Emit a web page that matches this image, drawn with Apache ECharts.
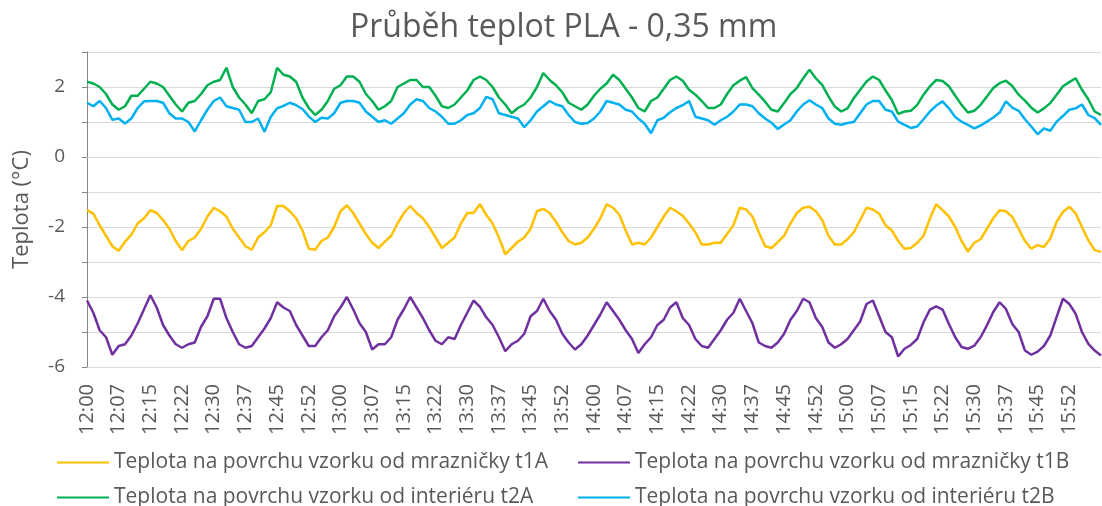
<!DOCTYPE html>
<html lang="cs">
<head>
    <meta charset="UTF-8">
    <title>Průběh teplot PLA - 0,35 mm</title>
    <script src="https://cdn.jsdelivr.net/npm/echarts@6/dist/echarts.min.js"></script>
    <style>
        html, body { margin: 0; width: 100%; height: 100%; background: #fff; }
        #main { width: 1102px; height: 506px; }
    </style>
</head>
<body>
<div id="main"></div>
<script>
    // casova osa: mereni po 1,5 min od 12:00
    var startTime = 12 * 3600;
    var stepSec = 90;
    var pointCount = 161;
    var categories = [];
    for (var k = 0; k < pointCount; k++) {
        var s = startTime + k * stepSec;
        var hh = Math.floor(s / 3600), mm = Math.floor((s % 3600) / 60), ss = s % 60;
        categories.push(hh + ':' + (mm < 10 ? '0' : '') + mm + ':' + (ss < 10 ? '0' : '') + ss);
    }

    var seriesNames = [
        'Teplota na povrchu vzorku od mrazničky t1A',
        'Teplota na povrchu vzorku od mrazničky t1B',
        'Teplota na povrchu vzorku od interiéru t2A',
        'Teplota na povrchu vzorku od interiéru t2B'
    ];

    var t1A = [
        -1.52, -1.62, -1.95, -2.25, -2.55, -2.68, -2.42, -2.22, -1.9, -1.75,
        -1.52, -1.6, -1.8, -2.05, -2.4, -2.66, -2.4, -2.3, -2.05, -1.7,
        -1.45, -1.55, -1.7, -2.05, -2.3, -2.55, -2.65, -2.3, -2.15, -1.95,
        -1.4, -1.4, -1.55, -1.75, -2.1, -2.62, -2.65, -2.4, -2.3, -2.0,
        -1.55, -1.38, -1.6, -1.9, -2.2, -2.45, -2.6, -2.42, -2.25, -1.9,
        -1.6, -1.4, -1.6, -1.75, -2.0, -2.3, -2.6, -2.45, -2.3, -1.9,
        -1.6, -1.6, -1.35, -1.65, -1.9, -2.3, -2.78, -2.6, -2.42, -2.3,
        -2.05, -1.55, -1.48, -1.6, -1.85, -2.15, -2.4, -2.5, -2.45, -2.3,
        -2.05, -1.75, -1.35, -1.45, -1.65, -2.1, -2.5, -2.45, -2.5, -2.3,
        -2.0, -1.7, -1.45, -1.55, -1.68, -1.9, -2.15, -2.5, -2.5, -2.45,
        -2.45, -2.2, -1.95, -1.45, -1.5, -1.7, -2.15, -2.55, -2.6, -2.43,
        -2.25, -1.9, -1.6, -1.45, -1.42, -1.55, -1.8, -2.25, -2.5, -2.5,
        -2.35, -2.15, -1.8, -1.45, -1.5, -1.62, -1.95, -2.1, -2.4, -2.62,
        -2.6, -2.45, -2.25, -1.76, -1.35, -1.52, -1.7, -2.0, -2.4, -2.7,
        -2.45, -2.35, -2.05, -1.75, -1.52, -1.55, -1.71, -2.05, -2.4, -2.62,
        -2.52, -2.57, -2.33, -1.85, -1.57, -1.42, -1.61, -2.0, -2.38, -2.66,
        -2.71
    ];
    var t1B = [
        -4.1, -4.45, -4.95, -5.15, -5.65, -5.4, -5.35, -5.1, -4.75, -4.35,
        -3.95, -4.3, -4.8, -5.1, -5.35, -5.45, -5.35, -5.3, -4.85, -4.55,
        -4.05, -4.05, -4.6, -5.0, -5.35, -5.45, -5.4, -5.15, -4.9, -4.6,
        -4.15, -4.3, -4.4, -4.8, -5.1, -5.4, -5.4, -5.15, -4.95, -4.55,
        -4.3, -4.0, -4.35, -4.75, -5.0, -5.5, -5.35, -5.35, -5.15, -4.65,
        -4.35, -4.0, -4.3, -4.6, -4.95, -5.25, -5.35, -5.15, -5.2, -4.8,
        -4.45, -4.1, -4.28, -4.58, -4.8, -5.15, -5.55, -5.35, -5.25, -5.05,
        -4.55, -4.4, -4.05, -4.4, -4.65, -5.05, -5.3, -5.5, -5.35, -5.1,
        -4.8, -4.5, -4.15, -4.4, -4.65, -4.95, -5.2, -5.6, -5.35, -5.15,
        -4.8, -4.65, -4.3, -4.15, -4.6, -4.8, -5.2, -5.4, -5.45, -5.2,
        -4.95, -4.65, -4.45, -4.05, -4.4, -4.75, -5.3, -5.4, -5.45, -5.3,
        -5.05, -4.65, -4.4, -4.05, -4.15, -4.6, -4.85, -5.3, -5.45, -5.35,
        -5.2, -4.95, -4.7, -4.2, -4.1, -4.55, -5.0, -5.15, -5.7, -5.48,
        -5.37, -5.2, -4.72, -4.36, -4.27, -4.36, -4.77, -5.15, -5.43, -5.48,
        -5.39, -5.15, -4.81, -4.43, -4.15, -4.34, -4.77, -5.0, -5.53, -5.65,
        -5.56, -5.4, -5.1, -4.57, -4.05, -4.2, -4.48, -5.0, -5.34, -5.53,
        -5.67
    ];
    var t2A = [
        2.15, 2.1, 2.0, 1.8, 1.5, 1.35, 1.45, 1.75, 1.75, 1.95,
        2.15, 2.1, 2.0, 1.75, 1.5, 1.3, 1.55, 1.6, 1.8, 2.05,
        2.15, 2.2, 2.55, 2.0, 1.7, 1.5, 1.25, 1.6, 1.65, 1.85,
        2.55, 2.35, 2.3, 2.15, 1.7, 1.4, 1.2, 1.35, 1.6, 1.95,
        2.05, 2.3, 2.3, 2.15, 1.8, 1.6, 1.35, 1.45, 1.6, 2.0,
        2.1, 2.2, 2.2, 2.0, 2.0, 1.75, 1.45, 1.4, 1.5, 1.7,
        1.9, 2.2, 2.3, 2.2, 2.0, 1.7, 1.5, 1.25, 1.4, 1.5,
        1.7, 2.0, 2.4, 2.2, 2.05, 1.85, 1.55, 1.45, 1.35, 1.5,
        1.75, 1.95, 2.1, 2.35, 2.2, 1.95, 1.7, 1.4, 1.3, 1.6,
        1.7, 1.95, 2.2, 2.3, 2.18, 1.92, 1.78, 1.6, 1.4, 1.4,
        1.5, 1.8, 2.05, 2.18, 2.28, 1.97, 1.78, 1.58, 1.35, 1.3,
        1.54, 1.8, 1.97, 2.25, 2.49, 2.25, 2.06, 1.73, 1.44, 1.3,
        1.39, 1.68, 1.92, 2.16, 2.3, 2.2, 1.9, 1.63, 1.23, 1.3,
        1.32, 1.49, 1.78, 2.02, 2.2, 2.17, 2.02, 1.75, 1.49, 1.27,
        1.32, 1.49, 1.73, 1.97, 2.11, 2.18, 2.03, 1.78, 1.61, 1.41,
        1.27, 1.39, 1.54, 1.78, 2.02, 2.14, 2.25, 1.92, 1.65, 1.3,
        1.2
    ];
    var t2B = [
        1.55, 1.45, 1.6, 1.4, 1.06, 1.1, 0.96, 1.1, 1.4, 1.59,
        1.6, 1.6, 1.55, 1.25, 1.1, 1.1, 1.0, 0.73, 1.05, 1.35,
        1.6, 1.7, 1.45, 1.4, 1.35, 1.0, 1.0, 1.1, 0.72, 1.15,
        1.39, 1.46, 1.55, 1.48, 1.37, 1.16, 1.0, 1.12, 1.1, 1.25,
        1.55, 1.6, 1.6, 1.55, 1.3, 1.15, 1.0, 1.05, 0.95, 1.1,
        1.25, 1.5, 1.65, 1.6, 1.4, 1.3, 1.15, 0.95, 0.95, 1.05,
        1.2, 1.25, 1.4, 1.72, 1.65, 1.25, 1.2, 1.15, 1.1, 0.85,
        1.05, 1.3, 1.45, 1.6, 1.5, 1.45, 1.2, 1.0, 0.95, 0.97,
        1.1, 1.3, 1.6, 1.55, 1.5, 1.35, 1.3, 1.1, 0.95, 0.68,
        1.05, 1.12, 1.28, 1.4, 1.48, 1.6, 1.15, 1.1, 1.05, 0.92,
        1.05, 1.15, 1.3, 1.5, 1.5, 1.45, 1.25, 1.1, 0.98, 0.8,
        0.93, 1.05, 1.3, 1.5, 1.62, 1.5, 1.4, 1.1, 0.95, 0.92,
        0.97, 1.0, 1.25, 1.5, 1.6, 1.6, 1.35, 1.3, 1.01, 0.92,
        0.83, 0.87, 1.08, 1.3, 1.47, 1.59, 1.39, 1.14, 1.01, 0.92,
        0.82, 0.9, 1.01, 1.13, 1.27, 1.59, 1.41, 1.32, 1.08, 0.87,
        0.65, 0.82, 0.75, 1.01, 1.17, 1.35, 1.39, 1.5, 1.2, 1.11,
        0.92
    ];

    var seriesData = [t1A, t1B, t2A, t2B];
    var seriesColors = ['#FFC000', '#7030A0', '#00B050', '#00B0F0'];

    var textColor = '#595959';
    var fontName = '"Open Sans", "Noto Sans", sans-serif';

    var myChart = echarts.init(document.getElementById('main'));

    // dve svisle legendy, aby sloupce byly zarovnane jako v Excelu
    function makeLegend(left, names) {
        return {
            orient: 'vertical',
            left: left,
            top: 452,
            height: 80,
            itemWidth: 52,
            itemHeight: 20,
            itemGap: 14,
            padding: 0,
            itemStyle: { opacity: 0 },
            textStyle: { color: textColor, fontSize: 21, fontFamily: fontName, lineHeight: 20 },
            data: names
        };
    }

    var option = {
        animation: false,
        title: {
            text: 'Průběh teplot PLA - 0,35 mm',
            left: 345,
            top: 7,
            textStyle: { color: textColor, fontSize: 32, fontWeight: 'normal', fontFamily: fontName }
        },
        legend: [
            makeLegend(56, [seriesNames[0], seriesNames[2]]),
            makeLegend(577, [seriesNames[1], seriesNames[3]])
        ],
        grid: {
            left: 87,
            right: 1,
            top: 52,
            bottom: 139
        },
        xAxis: {
            type: 'category',
            boundaryGap: false,
            data: categories,
            axisLine: { lineStyle: { color: '#d9d9d9', width: 1 } },
            axisTick: { show: false },
            splitLine: { show: false },
            axisLabel: {
                rotate: 90,
                margin: 17,
                color: textColor,
                fontSize: 20,
                fontFamily: fontName,
                interval: function (idx) { return idx % 5 === 0 && idx < 160; },
                formatter: function (v) { return v.slice(0, 5); }
            }
        },
        yAxis: {
            type: 'value',
            min: -6,
            max: 3,
            interval: 1,
            name: 'Teplota (°C)',
            nameLocation: 'middle',
            nameGap: 54,
            nameTextStyle: { color: textColor, fontSize: 22, fontFamily: fontName },
            axisLine: { show: true, lineStyle: { color: '#868686', width: 1 } },
            axisTick: { show: true, length: 5, lineStyle: { color: '#868686' } },
            splitLine: { lineStyle: { color: '#d9d9d9', width: 1 } },
            axisLabel: {
                margin: 22,
                color: textColor,
                fontSize: 19,
                fontFamily: fontName,
                formatter: function (v) { return v % 2 === 0 ? String(v) : ''; }
            }
        },
        series: seriesNames.map(function (name, i) {
            return {
                name: name,
                type: 'line',
                data: seriesData[i],
                symbol: 'none',
                color: seriesColors[i],
                lineStyle: { width: 2.5, color: seriesColors[i] }
            };
        })
    };

    myChart.setOption(option);
</script>
</body>
</html>
